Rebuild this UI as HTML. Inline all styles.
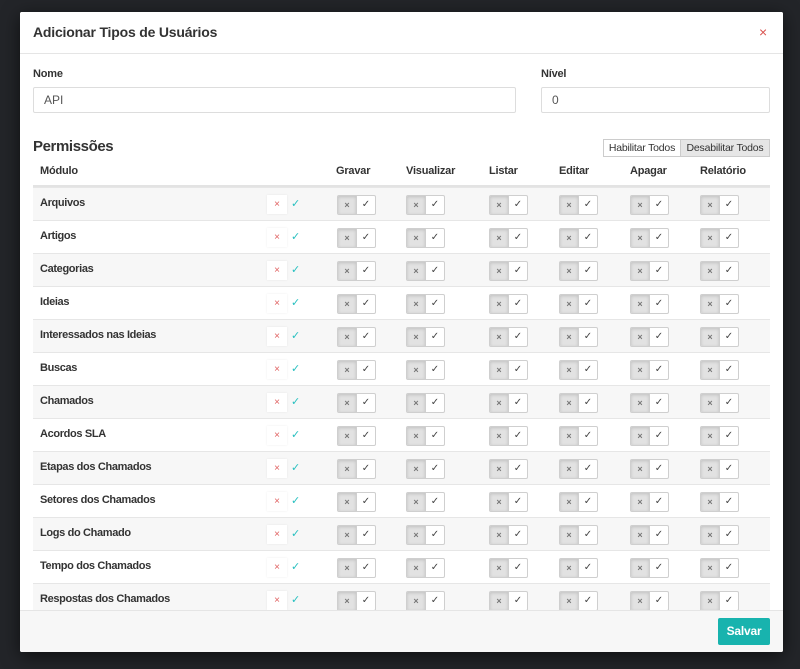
<!DOCTYPE html>
<html><head><meta charset="utf-8">
<style>
*{box-sizing:border-box;margin:0;padding:0}
html,body{width:800px;height:669px;overflow:hidden;background:#232529;font-family:"Liberation Sans","DejaVu Sans",sans-serif;color:#333}
.modal{position:absolute;left:20px;top:12px;width:763px;height:640px;background:#fff;border-radius:2px;box-shadow:0 4px 18px rgba(0,0,0,.6);overflow:hidden}
.hd{position:absolute;left:0;top:0;width:763px;height:42px;border-bottom:1px solid #e5e5e5;background:#fff;z-index:3}
.hd h1{position:absolute;left:13px;top:12px;font-size:14px;font-weight:bold;letter-spacing:-0.2px;color:#333;line-height:17px}
.hd .x{position:absolute;left:739px;top:12px;color:#d9534f;font-size:14px;line-height:17px}
.bd{position:absolute;left:0;top:0;width:763px;height:598px;overflow:hidden}
.lbl{position:absolute;font-size:11px;font-weight:bold;color:#333;letter-spacing:-0.2px;line-height:14px}
.inp{position:absolute;top:75px;height:26px;border:1px solid #ddd;border-radius:2px;font-size:12px;color:#555;padding-left:10px;line-height:24px}
.h2{position:absolute;left:13px;top:126px;font-size:15px;font-weight:bold;letter-spacing:-0.4px;color:#333;line-height:18px}
.btn{position:absolute;top:127px;height:18px;border:1px solid #ccc;font-size:10.5px;line-height:16px;color:#333;text-align:center;letter-spacing:-0.2px}
.th{position:absolute;top:152px;font-size:11px;font-weight:bold;color:#333;letter-spacing:-0.2px;line-height:14px}
.hline{position:absolute;left:13px;top:173px;width:737px;height:2px;background:#e3e3e3}
.r{position:absolute;left:13px;width:737px;height:33px;border-top:1px solid #e6e6e6}
.s{background:#f7f7f7}
.n{position:absolute;left:7px;top:0;line-height:31px;font-size:11px;font-weight:bold;color:#333;letter-spacing:-0.35px}
.sx{position:absolute;left:234px;top:7px;width:20px;height:19px;background:#fff;box-shadow:0 0 2px rgba(0,0,0,.08);color:#e06060;font-size:10px;text-align:center;line-height:19px;font-style:normal}
.sc{position:absolute;left:258px;top:7px;color:#29c0c0;font-size:11px;line-height:19px;font-style:normal}
.t{position:absolute;top:7px;width:39px;height:20px;border:1px solid #cfcfcf;border-radius:2px;background:#fff;overflow:hidden}
.t u{position:absolute;left:0;top:0;width:19px;height:18px;background:#e2e2e2;box-shadow:inset 0 1px 3px rgba(0,0,0,.15);border-right:1px solid #cfcfcf;color:#777;font-size:9px;line-height:18px;text-align:center;text-decoration:none}
.t em{position:absolute;left:19px;top:0;width:18px;height:18px;color:#444;font-size:10px;line-height:18px;text-align:center;font-style:normal}
.t1{left:304px}.t2{left:373px}.t3{left:456px}.t4{left:526px}.t5{left:597px}.t6{left:667px}
.ft{position:absolute;left:0;top:598px;width:763px;height:42px;background:#f7f7f7;border-top:1px solid #e5e5e5;z-index:3}
.sv{position:absolute;left:698px;top:7px;width:52px;height:27px;background:#18b3ae;border-radius:2px;color:#fff;font-size:12px;font-weight:bold;line-height:27px;text-align:center;letter-spacing:-0.2px}
</style></head><body>
<div class="modal">
  <div class="hd"><h1>Adicionar Tipos de Usuários</h1><span class="x">×</span></div>
  <div class="bd">
    <div class="lbl" style="left:13px;top:55px">Nome</div>
    <div class="lbl" style="left:521px;top:55px">Nível</div>
    <div class="inp" style="left:13px;width:483px">API</div>
    <div class="inp" style="left:521px;width:229px">0</div>
    <div class="h2">Permissões</div>
    <div class="btn" style="left:583px;width:78px;background:#fff">Habilitar Todos</div>
    <div class="btn" style="left:660px;width:90px;background:#e6e6e6">Desabilitar Todos</div>
    <div class="th" style="left:20px">Módulo</div>
    <div class="th" style="left:316px">Gravar</div>
    <div class="th" style="left:386px">Visualizar</div>
    <div class="th" style="left:469px">Listar</div>
    <div class="th" style="left:539px">Editar</div>
    <div class="th" style="left:610px">Apagar</div>
    <div class="th" style="left:680px">Relatório</div>
    <div class="hline"></div>

    <div class="r s" style="top:175px"><span class="n">Arquivos</span><i class="sx">×</i><i class="sc">✓</i><b class="t t1"><u>×</u><em>✓</em></b><b class="t t2"><u>×</u><em>✓</em></b><b class="t t3"><u>×</u><em>✓</em></b><b class="t t4"><u>×</u><em>✓</em></b><b class="t t5"><u>×</u><em>✓</em></b><b class="t t6"><u>×</u><em>✓</em></b></div>
    <div class="r" style="top:208px"><span class="n">Artigos</span><i class="sx">×</i><i class="sc">✓</i><b class="t t1"><u>×</u><em>✓</em></b><b class="t t2"><u>×</u><em>✓</em></b><b class="t t3"><u>×</u><em>✓</em></b><b class="t t4"><u>×</u><em>✓</em></b><b class="t t5"><u>×</u><em>✓</em></b><b class="t t6"><u>×</u><em>✓</em></b></div>
    <div class="r s" style="top:241px"><span class="n">Categorias</span><i class="sx">×</i><i class="sc">✓</i><b class="t t1"><u>×</u><em>✓</em></b><b class="t t2"><u>×</u><em>✓</em></b><b class="t t3"><u>×</u><em>✓</em></b><b class="t t4"><u>×</u><em>✓</em></b><b class="t t5"><u>×</u><em>✓</em></b><b class="t t6"><u>×</u><em>✓</em></b></div>
    <div class="r" style="top:274px"><span class="n">Ideias</span><i class="sx">×</i><i class="sc">✓</i><b class="t t1"><u>×</u><em>✓</em></b><b class="t t2"><u>×</u><em>✓</em></b><b class="t t3"><u>×</u><em>✓</em></b><b class="t t4"><u>×</u><em>✓</em></b><b class="t t5"><u>×</u><em>✓</em></b><b class="t t6"><u>×</u><em>✓</em></b></div>
    <div class="r s" style="top:307px"><span class="n">Interessados nas Ideias</span><i class="sx">×</i><i class="sc">✓</i><b class="t t1"><u>×</u><em>✓</em></b><b class="t t2"><u>×</u><em>✓</em></b><b class="t t3"><u>×</u><em>✓</em></b><b class="t t4"><u>×</u><em>✓</em></b><b class="t t5"><u>×</u><em>✓</em></b><b class="t t6"><u>×</u><em>✓</em></b></div>
    <div class="r" style="top:340px"><span class="n">Buscas</span><i class="sx">×</i><i class="sc">✓</i><b class="t t1"><u>×</u><em>✓</em></b><b class="t t2"><u>×</u><em>✓</em></b><b class="t t3"><u>×</u><em>✓</em></b><b class="t t4"><u>×</u><em>✓</em></b><b class="t t5"><u>×</u><em>✓</em></b><b class="t t6"><u>×</u><em>✓</em></b></div>
    <div class="r s" style="top:373px"><span class="n">Chamados</span><i class="sx">×</i><i class="sc">✓</i><b class="t t1"><u>×</u><em>✓</em></b><b class="t t2"><u>×</u><em>✓</em></b><b class="t t3"><u>×</u><em>✓</em></b><b class="t t4"><u>×</u><em>✓</em></b><b class="t t5"><u>×</u><em>✓</em></b><b class="t t6"><u>×</u><em>✓</em></b></div>
    <div class="r" style="top:406px"><span class="n">Acordos SLA</span><i class="sx">×</i><i class="sc">✓</i><b class="t t1"><u>×</u><em>✓</em></b><b class="t t2"><u>×</u><em>✓</em></b><b class="t t3"><u>×</u><em>✓</em></b><b class="t t4"><u>×</u><em>✓</em></b><b class="t t5"><u>×</u><em>✓</em></b><b class="t t6"><u>×</u><em>✓</em></b></div>
    <div class="r s" style="top:439px"><span class="n">Etapas dos Chamados</span><i class="sx">×</i><i class="sc">✓</i><b class="t t1"><u>×</u><em>✓</em></b><b class="t t2"><u>×</u><em>✓</em></b><b class="t t3"><u>×</u><em>✓</em></b><b class="t t4"><u>×</u><em>✓</em></b><b class="t t5"><u>×</u><em>✓</em></b><b class="t t6"><u>×</u><em>✓</em></b></div>
    <div class="r" style="top:472px"><span class="n">Setores dos Chamados</span><i class="sx">×</i><i class="sc">✓</i><b class="t t1"><u>×</u><em>✓</em></b><b class="t t2"><u>×</u><em>✓</em></b><b class="t t3"><u>×</u><em>✓</em></b><b class="t t4"><u>×</u><em>✓</em></b><b class="t t5"><u>×</u><em>✓</em></b><b class="t t6"><u>×</u><em>✓</em></b></div>
    <div class="r s" style="top:505px"><span class="n">Logs do Chamado</span><i class="sx">×</i><i class="sc">✓</i><b class="t t1"><u>×</u><em>✓</em></b><b class="t t2"><u>×</u><em>✓</em></b><b class="t t3"><u>×</u><em>✓</em></b><b class="t t4"><u>×</u><em>✓</em></b><b class="t t5"><u>×</u><em>✓</em></b><b class="t t6"><u>×</u><em>✓</em></b></div>
    <div class="r" style="top:538px"><span class="n">Tempo dos Chamados</span><i class="sx">×</i><i class="sc">✓</i><b class="t t1"><u>×</u><em>✓</em></b><b class="t t2"><u>×</u><em>✓</em></b><b class="t t3"><u>×</u><em>✓</em></b><b class="t t4"><u>×</u><em>✓</em></b><b class="t t5"><u>×</u><em>✓</em></b><b class="t t6"><u>×</u><em>✓</em></b></div>
    <div class="r s" style="top:571px"><span class="n">Respostas dos Chamados</span><i class="sx">×</i><i class="sc">✓</i><b class="t t1"><u>×</u><em>✓</em></b><b class="t t2"><u>×</u><em>✓</em></b><b class="t t3"><u>×</u><em>✓</em></b><b class="t t4"><u>×</u><em>✓</em></b><b class="t t5"><u>×</u><em>✓</em></b><b class="t t6"><u>×</u><em>✓</em></b></div>
  </div>
  <div class="ft"><div class="sv">Salvar</div></div>
</div>
</body></html>
